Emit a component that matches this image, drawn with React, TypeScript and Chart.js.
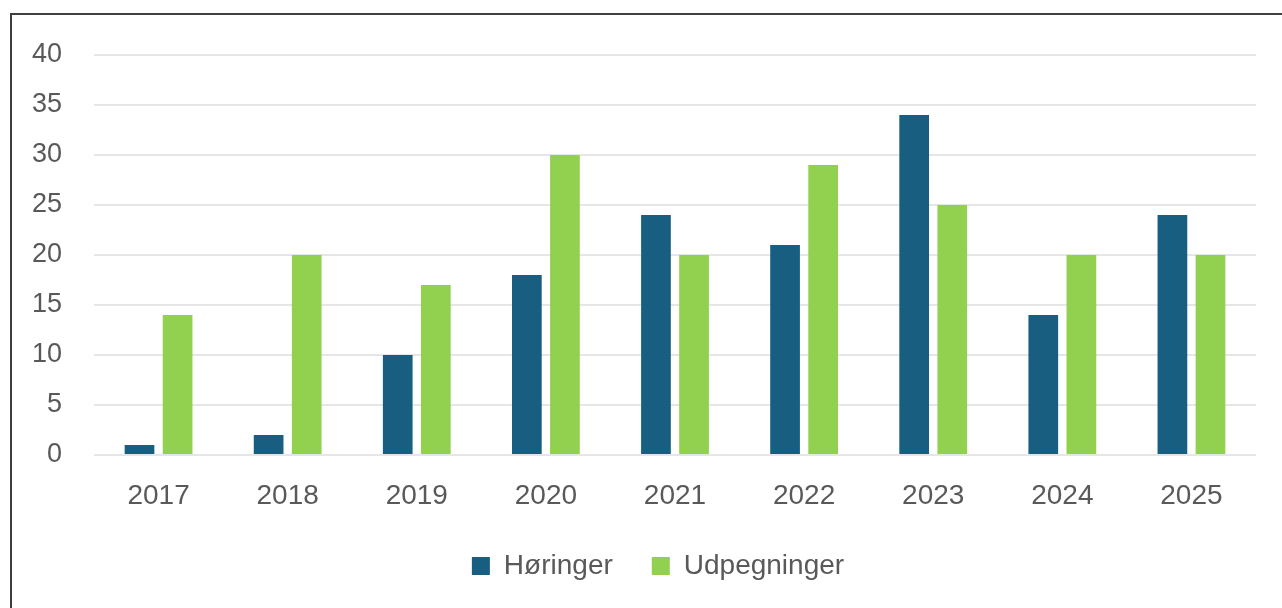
import React, { useEffect, useRef } from "react";
import { Chart, registerables } from "chart.js";

Chart.register(...registerables);

const years = ["2017", "2018", "2019", "2020", "2021", "2022", "2023", "2024", "2025"];
const horinger = [1, 2, 10, 18, 24, 21, 34, 14, 24];
const udpegninger = [14, 20, 17, 30, 20, 29, 25, 20, 20];
const yTicks = [0, 5, 10, 15, 20, 25, 30, 35, 40];

const FONT = "'Liberation Sans', Arial, sans-serif";

const shiftLegend = {
  id: "shiftLegend",
  afterLayout(chart: any) {
    const lg = chart.legend;
    if (lg) {
      lg.left += 30;
      lg.right += 30;
    }
  },
};

export default function App() {
  const ref = useRef<HTMLCanvasElement | null>(null);

  useEffect(() => {
    if (!ref.current) return;
    const chart = new Chart(ref.current, {
      type: "bar",
      data: {
        labels: years,
        datasets: [
          {
            label: "Høringer",
            data: horinger,
            backgroundColor: "#175E80",
            categoryPercentage: 0.59,
            barPercentage: 0.78,
          },
          {
            label: "Udpegninger",
            data: udpegninger,
            backgroundColor: "#92D050",
            categoryPercentage: 0.59,
            barPercentage: 0.78,
          },
        ],
      },
      options: {
        responsive: false,
        animation: false,
        layout: { padding: { top: 55, left: 0, right: 26, bottom: 18 } },
        scales: {
          x: {
            grid: { display: false },
            border: { display: false },
            ticks: {
              color: "#595959",
              font: { family: FONT, size: 28 },
              padding: 16,
            },
            afterFit: (s: any) => {
              s.height = 58;
            },
          },
          y: {
            min: 0,
            max: 40,
            afterBuildTicks: (s: any) => {
              s.ticks = yTicks.map((v) => ({ value: v }));
            },
            grid: { color: "#e6e6e6", lineWidth: 2, drawTicks: false },
            border: { display: false },
            ticks: {
              color: "#595959",
              font: { family: FONT, size: 27 },
              padding: 32,
            },
            afterFit: (s: any) => {
              s.width = 94;
            },
          },
        },
        plugins: {
          legend: {
            position: "bottom",
            labels: {
              color: "#595959",
              font: { family: FONT, size: 28 },
              boxWidth: 18,
              boxHeight: 18,
              padding: 39,
            },
          },
          tooltip: { enabled: false },
        },
      },
      plugins: [shiftLegend],
    });
    return () => chart.destroy();
  }, []);

  return (
    <div
      style={{
        position: "fixed",
        left: 0,
        top: 0,
        width: 1282,
        height: 608,
        overflow: "hidden",
        background: "#fff",
      }}
    >
      <div
        style={{
          position: "absolute",
          left: 10,
          top: 13,
          width: 1400,
          height: 800,
          borderLeft: "2px solid #3f3f3f",
          borderTop: "2px solid #3f3f3f",
        }}
      />
      <canvas ref={ref} width={1282} height={608} style={{ position: "absolute", left: 0, top: 0 }} />
    </div>
  );
}
